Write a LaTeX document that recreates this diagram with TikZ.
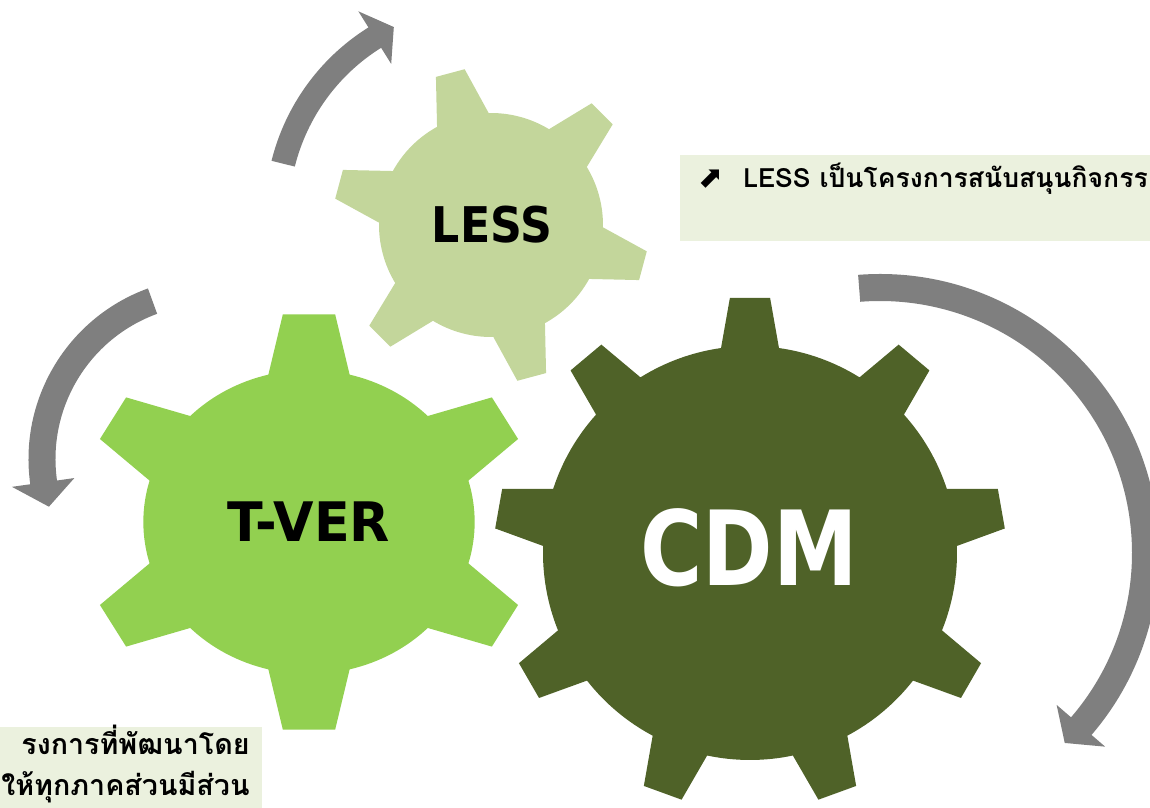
\documentclass[tikz,border=0pt]{standalone}
\usepackage{fontspec}
\usepackage{tikz}
\setmainfont{DejaVu Sans}
\newfontfamily\thaifont[Script=Thai]{Loma}
\newfontfamily\symbolfont{DejaVu Sans}
\definecolor{darkolive}{HTML}{4F6228}
\definecolor{lightgreen}{HTML}{92D050}
\definecolor{palegreen}{HTML}{C3D69B}
\definecolor{notefill}{HTML}{EBF1DE}
\definecolor{arrowgray}{HTML}{7F7F7F}
\def\unitpx{0.02cm}

\begin{document}
\begin{tikzpicture}[x=\unitpx, y=\unitpx]
    \tikzstyle{gear label}=[inner sep=0pt]
    \tikzstyle{turn arrow}=[fill=arrowgray]
    \tikzstyle{note box}=[fill=notefill]
    \tikzstyle{note small}=[inner sep=0pt, font=\thaifont\bfseries\fontsize{15.1}{17}\selectfont]
    \tikzstyle{note large}=[inner sep=0pt, font=\thaifont\bfseries\fontsize{16.3}{19}\selectfont]

    \useasboundingbox (0,0) rectangle (1150,808);
    \clip (0,0) rectangle (1150,808);

    % Draw the three gears, teeth as trapezoids on a round body
    \begin{scope}[shift={(491,583)}]
        \fill[palegreen] (91.2:112)
            \foreach \t in {105,165,...,405}
                { -- (\t-13.8:112) -- (\t-5.4:158) -- (\t+5.4:158) -- (\t+13.8:112)
                  arc[start angle=\t+13.8, end angle=\t+46.2, radius=112] }
            -- cycle;
    \end{scope}
    \begin{scope}[shift={(309,286)}, xscale=1.09]
        \fill[lightgreen] (15.8:152)
            \foreach \t in {30,90,...,330}
                { -- (\t-14.2:152) -- (\t-6.6:209) -- (\t+6.6:209) -- (\t+14.2:152)
                  arc[start angle=\t+14.2, end angle=\t+45.8, radius=152] }
            -- cycle;
    \end{scope}
    \begin{scope}[shift={(750,255)}]
        \fill[darkolive] (1.95:207)
            \foreach \t in {10,50,...,330}
                { -- (\t-8.05:207) -- (\t-4.5:256) -- (\t+4.5:256) -- (\t+8.05:207)
                  arc[start angle=\t+8.05, end angle=\t+31.95, radius=207] }
            -- cycle;
    \end{scope}

    % Gear names
    \node[gear label, font=\bfseries\fontsize{28}{30}\selectfont] (less) at (492,583) {\scalebox{0.9}[1]{LESS}};
    \node[gear label, font=\bfseries\fontsize{31}{33}\selectfont] (tver) at (309,286) {\scalebox{0.96}[1]{T-VER}};
    \node[gear label, font=\bfseries\fontsize{59}{61}\selectfont, text=white] (cdm) at (749,260) {\scalebox{0.82}[1]{CDM}};

    % Curved arrows round the gears
    \begin{scope}[shift={(485,594)}]
        \fill[turn arrow] (166:220) arc[start angle=166, end angle=122, radius=220]
            -- (122:239) -- (116:208) -- (122:177) -- (122:196)
            arc[start angle=122, end angle=166, radius=196] -- cycle;
    \end{scope}
    \begin{scope}[shift={(210,349)}]
        \fill[turn arrow] (110:181.5) arc[start angle=110, end angle=188, radius=181.5]
            -- (188:200) -- (196.5:168) -- (188:137) -- (188:154.5)
            arc[start angle=188, end angle=110, radius=154.5] -- cycle;
    \end{scope}
    \begin{scope}[shift={(880,255)}]
        \fill[turn arrow] (94.5:279) arc[start angle=94.5, end angle=-40.7, radius=279]
            -- (-40.7:297) -- (-45.8:265) -- (-40.7:233) -- (-40.7:252)
            arc[start angle=-40.7, end angle=94.5, radius=252] -- cycle;
    \end{scope}

    % Notes
    \fill[note box] (680,567) rectangle (1160,653);
    \node[inner sep=0pt, anchor=base west, font=\symbolfont\fontsize{17}{19}\selectfont] (lessmark) at (698,620) {⬈};
    \node[note small, anchor=base west] (lessnote) at (743,620) {LESS เป็นโครงการสนับสนุนกิจกรร};

    \fill[note box] (-10,-10) rectangle (262,81);
    \node[note large, anchor=base east] (tvernote1) at (250,53) {รงการที่พัฒนาโดย};
    \node[note large, anchor=base east] (tvernote2) at (250,12) {ให้ทุกภาคส่วนมีส่วน};
\end{tikzpicture}
\end{document}
